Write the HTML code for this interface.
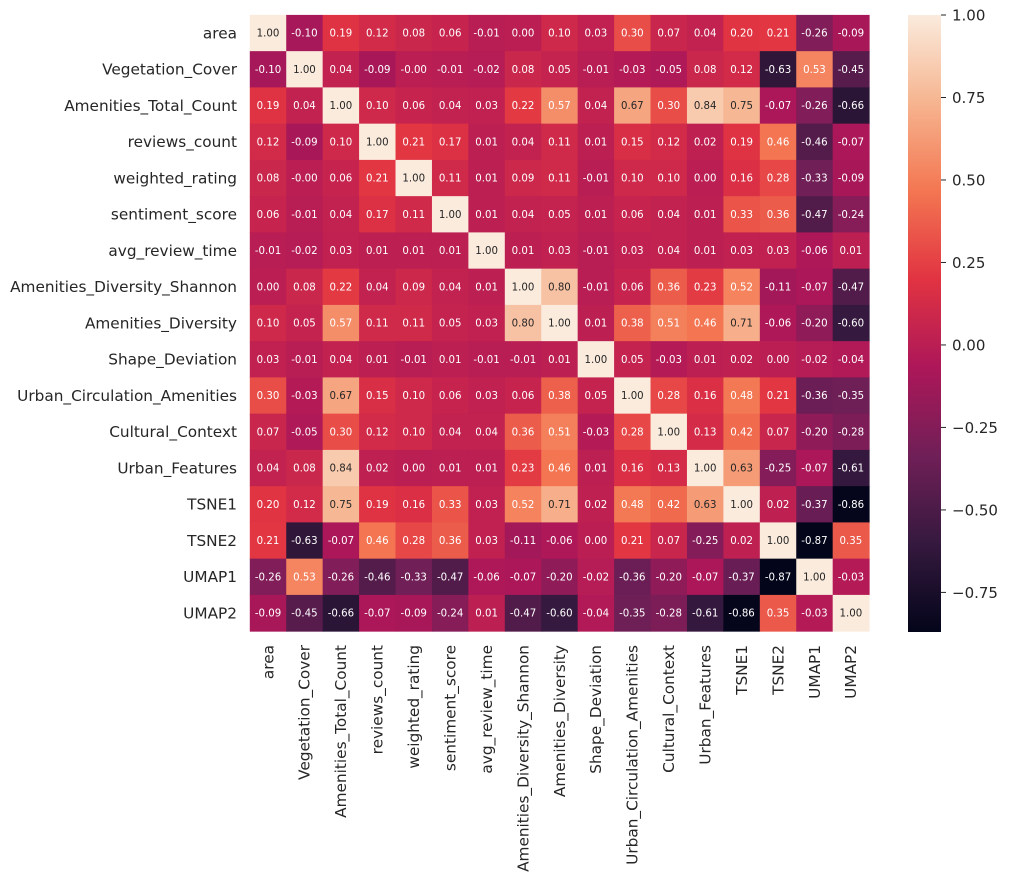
<!DOCTYPE html>
<html><head><meta charset="utf-8"><style>
html,body{margin:0;padding:0;background:#fff;}
svg{display:block;font-family:"DejaVu Sans","Liberation Sans",sans-serif;}
</style></head><body>
<svg id="chart" width="1009" height="881" viewBox="0 0 1009 881"></svg>
<script>
const labels=["area","Vegetation_Cover","Amenities_Total_Count","reviews_count","weighted_rating","sentiment_score","avg_review_time","Amenities_Diversity_Shannon","Amenities_Diversity","Shape_Deviation","Urban_Circulation_Amenities","Cultural_Context","Urban_Features","TSNE1","TSNE2","UMAP1","UMAP2"];
const row0=[1.00,-0.10,0.19,0.12,0.08,0.06,-0.01,0.00,0.10,0.03,0.30,0.07,0.04,0.20,0.21,-0.26,-0.09];
const row1=[-0.10,1.00,0.04,-0.09,-0.001,-0.01,-0.02,0.08,0.05,-0.01,-0.03,-0.05,0.08,0.12,-0.63,0.53,-0.45];
const row2=[0.19,0.04,1.00,0.10,0.06,0.04,0.03,0.22,0.57,0.04,0.67,0.30,0.84,0.75,-0.07,-0.26,-0.66];
const row3=[0.12,-0.09,0.10,1.00,0.21,0.17,0.01,0.04,0.11,0.01,0.15,0.12,0.02,0.19,0.46,-0.46,-0.07];
const row4=[0.08,-0.001,0.06,0.21,1.00,0.11,0.01,0.09,0.11,-0.01,0.10,0.10,0.00,0.16,0.28,-0.33,-0.09];
const row5=[0.06,-0.01,0.04,0.17,0.11,1.00,0.01,0.04,0.05,0.01,0.06,0.04,0.01,0.33,0.36,-0.47,-0.24];
const row6=[-0.01,-0.02,0.03,0.01,0.01,0.01,1.00,0.01,0.03,-0.01,0.03,0.04,0.01,0.03,0.03,-0.06,0.01];
const row7=[0.00,0.08,0.22,0.04,0.09,0.04,0.01,1.00,0.80,-0.01,0.06,0.36,0.23,0.52,-0.11,-0.07,-0.47];
const row8=[0.10,0.05,0.57,0.11,0.11,0.05,0.03,0.80,1.00,0.01,0.38,0.51,0.46,0.71,-0.06,-0.20,-0.60];
const row9=[0.03,-0.01,0.04,0.01,-0.01,0.01,-0.01,-0.01,0.01,1.00,0.05,-0.03,0.01,0.02,0.00,-0.02,-0.04];
const row10=[0.30,-0.03,0.67,0.15,0.10,0.06,0.03,0.06,0.38,0.05,1.00,0.28,0.16,0.48,0.21,-0.36,-0.35];
const row11=[0.07,-0.05,0.30,0.12,0.10,0.04,0.04,0.36,0.51,-0.03,0.28,1.00,0.13,0.42,0.07,-0.20,-0.28];
const row12=[0.04,0.08,0.84,0.02,0.00,0.01,0.01,0.23,0.46,0.01,0.16,0.13,1.00,0.63,-0.25,-0.07,-0.61];
const row13=[0.20,0.12,0.75,0.19,0.16,0.33,0.03,0.52,0.71,0.02,0.48,0.42,0.63,1.00,0.02,-0.37,-0.86];
const row14=[0.21,-0.63,-0.07,0.46,0.28,0.36,0.03,-0.11,-0.06,0.00,0.21,0.07,-0.25,0.02,1.00,-0.87,0.35];
const row15=[-0.26,0.53,-0.26,-0.46,-0.33,-0.47,-0.06,-0.07,-0.20,-0.02,-0.36,-0.20,-0.07,-0.37,-0.87,1.00,-0.03];
const row16=[-0.09,-0.45,-0.66,-0.07,-0.09,-0.24,0.01,-0.47,-0.60,-0.04,-0.35,-0.28,-0.61,-0.86,0.35,-0.03,1.00];
const matrix=[row0,row1,row2,row3,row4,row5,row6,row7,row8,row9,row10,row11,row12,row13,row14,row15,row16];
const cbarTicks=[1.00,0.75,0.50,0.25,0.00,-0.25,-0.50,-0.75];
const vmin=-0.87, vmax=1.00;

const NS="http://www.w3.org/2000/svg";
const svg=document.getElementById('chart');
const X0=249.8, Y0=14.9, CW=36.43, CH=36.25;
const CBX=908, CBW=33, CBT=15, CBB=632;
function xPos(i){return X0+i*CW;}
function yPos(i){return Y0+i*CH;}
function cbY(v){return CBT+(vmax-v)/(vmax-vmin)*(CBB-CBT);}
const stops=[[0,[3,5,26]],[0.143,[53,25,62]],[0.286,[112,31,87]],[0.429,[173,23,89]],[0.571,[225,51,66]],[0.714,[243,118,81]],[0.857,[246,180,143]],[1,[250,235,221]]];
function color(v){
  let t=(v-vmin)/(vmax-vmin); t=Math.max(0,Math.min(1,t));
  for(let k=1;k<stops.length;k++){
    if(t<=stops[k][0]){const a=stops[k-1],b=stops[k];const f=(t-a[0])/(b[0]-a[0]);
      const c=a[1].map((x,j)=>Math.round(x+(b[1][j]-x)*f));return `rgb(${c[0]},${c[1]},${c[2]})`;}
  }
  return 'rgb(250,235,221)';
}
function mk(tag,attrs,parent){const e=document.createElementNS(NS,tag);for(const k in attrs)e.setAttribute(k,attrs[k]);(parent||svg).appendChild(e);return e;}

for(let r=0;r<matrix.length;r++){
  for(let c=0;c<matrix[r].length;c++){
    const v=matrix[r][c];
    const rect=mk('rect',{x:xPos(c),y:yPos(r),width:CW+0.5,height:CH+0.5,fill:color(v)});
    
    
    const t=mk('text',{x:xPos(c)+CW/2,y:yPos(r)+CH/2+3.6,'text-anchor':'middle','font-size':'10.2',fill:v>0.6?'#262626':'#ffffff'});
    t.textContent=v.toFixed(2);
    
    
  }
}
labels.forEach((l,i)=>{
  const t=mk('text',{x:237,y:yPos(i)+CH/2+5.3,'text-anchor':'end','font-size':'15.3',fill:'#262626'});
  t.textContent=l;
  
  
  const cx=xPos(i)+CW/2+5.3;
  const t2=mk('text',{x:0,y:0,'text-anchor':'end','font-size':'15.3',fill:'#262626',transform:`translate(${cx},645) rotate(-90)`});
  t2.textContent=l;
  
  
});
const defs=mk('defs',{});
const grad=mk('linearGradient',{id:'cbg',x1:0,y1:1,x2:0,y2:0},defs);
stops.forEach(s=>{mk('stop',{offset:s[0],'stop-color':`rgb(${s[1].join(',')})`},grad);});
const cb=mk('rect',{x:CBX,y:CBT,width:CBW,height:CBB-CBT,fill:'url(#cbg)'});


cbarTicks.forEach(v=>{
  const y=cbY(v);
  mk('line',{x1:CBX+CBW,x2:CBX+CBW+5,y1:y,y2:y,stroke:'#262626','stroke-width':1});
  const t=mk('text',{x:CBX+CBW+11,y:y+5.5,'font-size':'15',fill:'#262626'});
  t.textContent=(v<0?'\u2212':'')+Math.abs(v).toFixed(2);
  
  
});
</script>
</body></html>
